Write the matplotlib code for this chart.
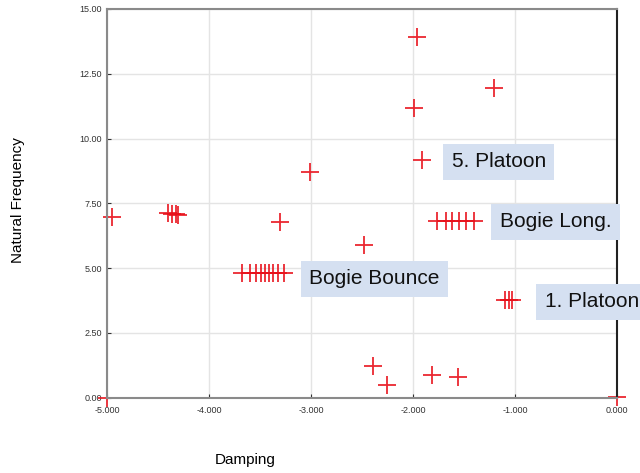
import matplotlib.pyplot as plt
from matplotlib.ticker import FormatStrFormatter

# pole locations (damping, natural frequency)
damping = [-4.95, -4.40, -4.36, -4.32, -4.30, -3.30, -3.01, -2.48, -1.96, -1.99,
           -1.91, -1.21,
           -1.76, -1.68, -1.62, -1.55, -1.48, -1.40,
           -3.68, -3.60, -3.54, -3.49, -3.45, -3.41, -3.37, -3.32, -3.26,
           -1.10, -1.06, -1.03,
           -2.39, -2.25, -1.81, -1.56, 0.0, -5.0]
frequency = [6.98, 7.12, 7.10, 7.08, 7.05, 6.79, 8.72, 5.90, 13.92, 11.18,
             9.18, 11.96,
             6.83, 6.83, 6.83, 6.83, 6.83, 6.83,
             4.82, 4.82, 4.82, 4.82, 4.82, 4.82, 4.82, 4.82, 4.82,
             3.78, 3.78, 3.78,
             1.23, 0.50, 0.89, 0.81, 0.03, 0.0]

labels = ["5. Platoon", "Bogie Long.", "Bogie Bounce", "1. Platoon"]
label_x = [-1.62, -1.15, -3.02, -0.71]
label_y = [9.1, 6.79, 4.59, 3.70]

plt.rcParams['font.family'] = ['Liberation Sans', 'DejaVu Sans']

fig = plt.figure(figsize=(6.4, 4.73), dpi=100)
ax = fig.add_axes([0.167, 0.159, 0.797, 0.822])

ax.plot(damping, frequency, linestyle='none', marker='+', color='#e8101a',
        markersize=13, markeredgewidth=1.3, alpha=0.9, clip_on=False)

for txt, x, y in zip(labels, label_x, label_y):
    ax.text(x, y, txt, fontsize=15, ha='left', va='center', color='#111111',
            bbox=dict(boxstyle='square,pad=0.4', facecolor='#d5e0f1', edgecolor='none'),
            clip_on=False)

ax.set_xlim(-5, 0)
ax.set_ylim(0, 15)
ax.set_xticks([-5, -4, -3, -2, -1, 0])
ax.set_yticks([0, 2.5, 5, 7.5, 10, 12.5, 15])
ax.xaxis.set_major_formatter(FormatStrFormatter('%.3f'))
ax.yaxis.set_major_formatter(FormatStrFormatter('%.2f'))
ax.tick_params(labelsize=6.5, colors='#333333', direction='in', length=3)
ax.tick_params(axis='x', pad=6)
ax.grid(True, color='#e4e4e4', linewidth=1)

for side in ['left', 'bottom', 'top']:
    ax.spines[side].set_color('#8a8a8a')
    ax.spines[side].set_linewidth(1.5)
ax.spines['right'].set_color('#222222')
ax.spines['right'].set_linewidth(1.5)

fig.text(0.028, 0.577, "Natural Frequency", rotation=90, ha='center', va='center', fontsize=11)
fig.text(0.383, 0.027, "Damping", ha='center', va='center', fontsize=11)

fig.savefig("out.png", dpi=100)
